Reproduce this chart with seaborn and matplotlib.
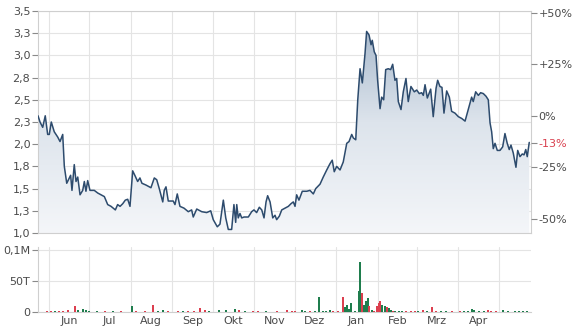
import numpy as np
import pandas as pd
import matplotlib
matplotlib.use("Agg")
import matplotlib.pyplot as plt
import matplotlib.dates as mdates
from matplotlib.colors import LinearSegmentedColormap
import seaborn as sns

# ---------------- data ----------------
start_date = "2023-05-24"

days = [0.0, 1.5, 3.5, 5.4, 7.2, 8.4, 9.9, 12.1, 14.7, 16.4, 18.4, 19.6, 21.4, 23.3, 24.3,
        25.3, 27.0, 28.3, 29.6, 31.3, 33.3, 34.5, 35.7, 37.0, 38.7, 41.9, 44.5, 46.9, 49.4,
        51.9, 54.4, 57.6, 59.3, 61.1, 63.1, 65.0, 66.8, 68.5, 70.5, 72.4, 74.2, 75.9, 77.4,
        80.4, 84.1, 86.6, 88.4, 90.3, 92.9, 94.0, 95.3, 97.0, 100.7, 102.0, 103.7, 105.7,
        108.7, 111.9, 114.4, 115.6, 118.2, 121.9, 125.6, 128.6, 130.5, 133.5, 135.5, 138.0,
        139.8, 141.7, 144.2, 145.9, 147.2, 148.0, 149.1, 150.4, 151.7, 153.4, 156.6, 159.1,
        160.8, 162.8, 164.8, 166.6, 168.3, 169.8, 171.0, 172.8, 174.8, 176.5, 177.7, 179.7,
        181.5, 183.9, 186.4, 188.4, 190.1, 191.4, 192.6, 194.3, 196.8, 200.1, 202.5, 205.0,
        206.8, 210.0, 212.4, 215.0, 217.4, 219.1, 220.6, 222.4, 224.9, 227.3, 229.9, 231.6,
        233.6, 234.8, 236.6, 238.1, 239.8, 241.5, 243.5, 244.7, 246.5, 248.0, 248.9, 250.4,
        251.7, 252.9, 254.7, 255.9, 257.4, 258.9, 260.8, 262.6, 264.1, 265.8, 267.1, 268.3,
        270.3, 272.0, 274.0, 275.7, 277.7, 280.2, 282.0, 283.9, 285.7, 286.9, 288.2, 289.9,
        292.4, 294.3, 296.4, 297.6, 299.3, 300.8, 302.3, 304.3, 306.3, 308.0, 310.5, 313.0,
        315.5, 318.0, 320.4, 322.9, 324.1, 325.9, 327.9, 329.6, 331.6, 333.6, 335.3, 336.6,
        337.8, 339.0, 340.3, 342.0, 344.0, 346.0, 347.7, 349.4, 350.9, 352.2, 353.9, 355.9,
        357.2, 358.9, 360.6, 361.9, 363.2, 364.3, 365.8]

prices = [2.32, 2.25, 2.19, 2.32, 2.11, 2.11, 2.25, 2.14, 2.08, 2.03, 2.11, 1.75, 1.56,
          1.62, 1.65, 1.48, 1.77, 1.58, 1.63, 1.43, 1.48, 1.58, 1.47, 1.59, 1.48, 1.48, 1.45,
          1.43, 1.41, 1.32, 1.30, 1.26, 1.32, 1.30, 1.33, 1.37, 1.38, 1.30, 1.70, 1.64, 1.58,
          1.62, 1.56, 1.54, 1.51, 1.62, 1.60, 1.50, 1.35, 1.48, 1.52, 1.36, 1.36, 1.32, 1.44,
          1.30, 1.28, 1.24, 1.26, 1.18, 1.27, 1.24, 1.23, 1.25, 1.15, 1.07, 1.10, 1.37, 1.17,
          1.04, 1.04, 1.32, 1.12, 1.32, 1.17, 1.22, 1.17, 1.18, 1.18, 1.24, 1.26, 1.23, 1.29,
          1.26, 1.17, 1.35, 1.42, 1.35, 1.17, 1.20, 1.15, 1.19, 1.26, 1.28, 1.30, 1.33, 1.35,
          1.30, 1.43, 1.37, 1.47, 1.47, 1.48, 1.44, 1.50, 1.55, 1.63, 1.71, 1.78, 1.82, 1.69,
          1.75, 1.71, 1.80, 2.01, 2.03, 2.11, 2.07, 2.05, 2.50, 2.85, 2.69, 3.02, 3.27, 3.23,
          3.12, 3.17, 3.04, 3.00, 2.72, 2.40, 2.53, 2.50, 2.84, 2.85, 2.84, 2.90, 2.72, 2.74,
          2.48, 2.39, 2.59, 2.74, 2.48, 2.65, 2.59, 2.61, 2.57, 2.58, 2.55, 2.67, 2.52, 2.62,
          2.31, 2.63, 2.72, 2.65, 2.64, 2.35, 2.60, 2.53, 2.37, 2.35, 2.31, 2.29, 2.26, 2.39,
          2.53, 2.48, 2.59, 2.55, 2.58, 2.57, 2.54, 2.50, 2.24, 2.14, 1.95, 2.01, 1.93, 1.93,
          1.97, 2.12, 2.01, 1.94, 1.99, 1.90, 1.74, 1.93, 1.86, 1.89, 1.88, 1.94, 1.86, 2.02]

vol_days = [6.5, 10, 13, 16, 18.6, 22, 27.5, 29.5, 33.7, 36, 38, 44, 50, 56, 62, 69.8, 73, 80,
            85.4, 89, 93, 97, 104, 108, 112, 116, 120.6, 124, 127, 135, 140, 146.7, 150, 154,
            160, 164, 170, 178, 185.2, 188.9, 191.4, 196.3, 198.8, 202.5, 206.3, 209.2, 212.4,
            214.2, 217.4, 219.9, 223.5, 227.3, 228.8, 230.1, 231.6, 232.8, 236.0, 239.0, 240.0,
            241.3, 242.8, 244.2, 245.5, 246.7, 248.5, 250.5, 252.7, 253.7, 254.8, 256.2, 258.4,
            259.6, 261.4, 263.0, 264.5, 266.0, 268.5, 271.0, 274.0, 278.0, 280.7, 283.0, 286.4,
            289.5, 293.6, 296.5, 300.0, 304.0, 308.0, 314.0, 317.0, 320.5, 322.9, 325.0, 328.5,
            332.0, 335.3, 337.5, 341.0, 346.5, 350.0, 355.0, 358.5, 361.4, 364.0]
vol_k = [2, 1.5, 2, 1.5, 2, 3, 9, 3, 5, 3, 2, 1, 1, 1.5, 1, 9, 2, 2, 12, 2, 3, 1, 2, 1.5, 1, 2, 7,
         3, 2, 3, 3, 5, 3, 2, 2, 2, 2, 1, 4, 2, 2, 3, 2, 1, 2, 24, 2, 2, 4, 2, 1, 24, 8, 11, 5, 14,
         2, 34, 81, 31, 11, 17, 22, 9, 3, 2, 10, 14, 18, 11, 10, 8, 6, 3, 2, 1, 2, 2, 1, 1, 2, 2,
         3, 1, 8, 2, 2, 2, 1, 1, 2, 1.5, 5, 3, 2, 2, 3, 2, 1, 3, 1, 1.5, 2, 2, 2]
vol_up = [0, 0, 1, 0, 0, 0, 0, 1, 1, 1, 1, 1, 0, 1, 0, 1, 0, 0, 0, 1, 1, 0, 0, 1, 0, 0, 0, 0, 1,
          1, 1, 1, 0, 1, 0, 0, 1, 0, 0, 0, 0, 1, 1, 0, 1, 1, 1, 1, 1, 0, 0, 0, 1, 1, 1, 1, 1, 1,
          1, 0, 1, 1, 1, 0, 1, 0, 0, 0, 0, 1, 1, 0, 1, 1, 0, 1, 1, 1, 0, 0, 0, 1, 0, 1, 0, 0, 1,
          1, 0, 0, 1, 1, 1, 1, 1, 1, 0, 0, 0, 1, 1, 1, 1, 1, 1]

month_labels = ["Jun", "Jul", "Aug", "Sep", "Okt", "Nov", "Dez", "Jan", "Feb", "Mrz", "Apr"]
price_ticks = [1.0, 1.25, 1.5, 1.75, 2.0, 2.25, 2.5, 2.75, 3.0, 3.25, 3.5]
price_labels = ["1,0", "1,3", "1,5", "1,8", "2,0", "2,3", "2,5", "2,8", "3,0", "3,3", "3,5"]
pct_ticks = [50, 25, 0, -25, -50]
pct_labels = ["+50%", "+25%", "0%", "-25%", "-50%"]
vol_ticks = [0, 50000, 100000]
vol_labels = ["0", "50T", "0,1M"]

# ---------------- style ----------------
sns.set_theme(style="white")
plt.rcParams["font.family"] = ["DejaVu Sans"]

W, H = 581, 330
fig = plt.figure(figsize=(W / 100, H / 100), dpi=100)
ax = fig.add_axes([38 / W, 1 - 233 / H, 493 / W, 222 / H])
axv = fig.add_axes([38 / W, 1 - 312 / H, 493 / W, 65 / H])

start = pd.Timestamp(start_date)
x0 = mdates.date2num(start)
xnum = x0 + np.array(days)
xmin, xmax = x0, x0 + 367.1
ymin, ymax = 1.0, 3.5

grid_c = "#e4e4e4"
spine_c = "#cfcfcf"
text_c = "#4a4a4a"
line_c = "#2d4b6d"

# gradient fill under the line
poly = ax.fill_between(xnum, prices, ymin, color="none", lw=0)
grad = np.linspace(0, 1, 256).reshape(-1, 1)
cmap = LinearSegmentedColormap.from_list("g", ["#f4f6f9", "#dde4ec", "#9fb2c7"])
im = ax.imshow(grad, extent=[xmin, xmax, ymin, ymax], origin="lower", aspect="auto",
               cmap=cmap, zorder=1)
im.set_clip_path(poly.get_paths()[0], transform=ax.transData)

sns.lineplot(x=xnum, y=prices, ax=ax, color=line_c, lw=1.1, zorder=3)

# month grid positions
months = pd.date_range("2023-06-01", "2024-05-01", freq="MS")
mid = months[:-1] + pd.Timedelta(days=15)

for a in (ax, axv):
    a.set_xlim(xmin, xmax)
    a.set_xticks(mdates.date2num(months))
    a.set_xticklabels([])
    a.grid(True, axis="both", color=grid_c, lw=0.8)
    a.set_axisbelow(True)
    for s in a.spines.values():
        s.set_color(spine_c)
        s.set_linewidth(0.8)
    a.tick_params(axis="x", length=0)
    a.tick_params(axis="y", which="major", direction="out", length=4, width=0.8,
                  color="#8a8a8a", labelsize=8, labelcolor=text_c, pad=1.5, left=True)

ax.set_ylim(ymin, ymax)
ax.set_yticks(price_ticks)
ax.set_yticklabels(price_labels)
ax.set_xlabel("")
ax.set_ylabel("")

# right percentage axis
base = prices[0]
axr = ax.twinx()
axr.set_ylim((ymin / base - 1) * 100, (ymax / base - 1) * 100)
cur = round((prices[-1] / base - 1) * 100)
rt = pct_ticks + [cur]
rl = pct_labels + [f"{cur:+d}%" if cur > 0 else f"{cur}%"]
axr.set_yticks(rt)
axr.set_yticklabels(rl)
axr.tick_params(axis="y", direction="out", length=4, width=0.8, color="#8a8a8a",
                labelsize=8, labelcolor=text_c, pad=1.5, right=True)
axr.get_yticklabels()[-1].set_color("#d9404f")
axr.grid(False)
for s in axr.spines.values():
    s.set_visible(False)

# volume panel
vol_x = x0 + np.array(vol_days)
vol_vals = np.array(vol_k) * 1000
colors = ["#1f7d4d" if u else "#dc3f4f" for u in vol_up]
axv.bar(vol_x, vol_vals, width=1.5, color=colors, lw=0, zorder=3)
axv.set_ylim(0, 105000)
axv.set_yticks(vol_ticks)
axv.set_yticklabels(vol_labels)
axv.spines["top"].set_visible(False)
axv.spines["right"].set_visible(False)
axv.set_xticks(mdates.date2num(mid), minor=True)
axv.set_xticklabels(month_labels, minor=True)
axv.tick_params(axis="x", which="minor", length=0, labelsize=8, labelcolor=text_c, pad=3)

fig.savefig("out.png", dpi=100)
